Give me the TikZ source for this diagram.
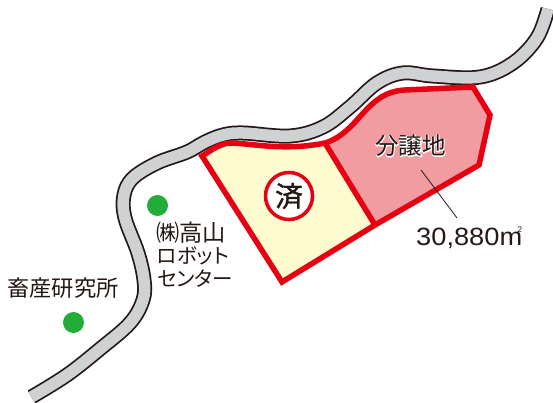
\documentclass[tikz,border=0pt]{standalone}
\usepackage{fontspec}
\setmainfont{Noto Sans CJK JP}[RawFeature=+palt]
\newfontfamily\halofont{Noto Sans CJK JP}[FakeBold=6]
\newfontfamily\markfont{Noto Sans CJK JP}[FakeBold=1]
\newfontfamily\numfont{Liberation Sans}[FakeStretch=1.09]
\definecolor{ink}{HTML}{231815}
\definecolor{roadgray}{HTML}{D0D1D2}
\definecolor{lotred}{HTML}{E60012}
\definecolor{lotpink}{HTML}{F19CA0}
\definecolor{lotyellow}{HTML}{FFFBD0}
\definecolor{dotgreen}{HTML}{22AC38}
\tikzset{
  lbl/.style={inner sep=0pt,text=ink,anchor=west,font=\fontsize{22.3}{24}\selectfont},
  kana/.style={lbl,font=\fontsize{20.5}{24}\selectfont},
  dot/.style={circle,fill=dotgreen,draw=none,minimum size=21pt,inner sep=0pt},
  lotline/.style={draw=lotred,line width=5.5pt,line join=miter},
  roadpath/.style={smooth,tension=0.6}
}
\begin{document}
\begin{tikzpicture}[x=1pt,y=-1pt]
\useasboundingbox (0,0) rectangle (553,403);
\def\roadcoords{(31.5,397) (67,375) (100,349) (130,323) (143,300) (144,280) (138,253) (125,218) (124,195) (133,178) (157,163) (187,152) (205,142) (223,135) (243,133) (290,136) (323,127) (350,107) (377,83) (403,73) (433,76) (480,77) (513,63) (537,38) (548,9)}
\draw[ink,line width=15pt,line cap=butt,line join=round] plot[roadpath] coordinates {\roadcoords};
\draw[roadgray,line width=11.5pt,line cap=butt,line join=round] plot[roadpath] coordinates {\roadcoords};
% lots
\fill[lotyellow] (202,156) .. controls (212,150) and (220,143) .. (232,143) .. controls (255,144) and (285,151) .. (325,143) -- (375,225) -- (282,282) -- cycle;
\fill[lotpink] (325,143) .. controls (360,132) and (365,92) .. (405,90) -- (473,87) -- (490,115) -- (479,165) -- (375,225) -- cycle;
\draw[lotline] (325,143) -- (375,225);
\draw[lotline] (202,156) .. controls (212,150) and (220,143) .. (232,143) .. controls (255,144) and (285,151) .. (325,143) .. controls (360,132) and (365,92) .. (405,90) -- (473,87) -- (490,115) -- (479,165) -- (375,225) -- (282,282) -- cycle;
% sold mark
\node[circle,draw=lotred,fill=white,line width=3.5pt,minimum size=47pt,inner sep=0pt,text=ink,font=\markfont\fontsize{28}{28}\selectfont] (sold) at (289,196) {済};
% labels
\node[inner sep=0pt,text=white,font=\halofont\fontsize{23.5}{24}\selectfont] (lothalo) at (410.5,146) {分譲地};
\node[inner sep=0pt,text=ink,font=\fontsize{23.5}{24}\selectfont] (lot) at (410.5,146) {分譲地};
\node[lbl] (area) at (416,238) {\numfont\fontsize{25}{25}\selectfont 30,880m\raisebox{13pt}{\fontsize{8}{8}\selectfont\hspace{-5pt}2}};
\coordinate (lead) at (421,170);
\coordinate (leadend) at (457,218);
\draw[ink,line width=0.8pt] (lead) -- (leadend);
% dots
\node[dot] (d1) at (157.5,205.5) {};
\node[dot] (d2) at (73.5,322.5) {};
\node[lbl,font=\fontsize{23.2}{24}\selectfont] (l1) at (156,233) {㈱高山};
\node[kana] (l2) at (157,256) {ロボット};
\node[kana] (l3) at (157,279) {センター};
\node[lbl] (l4) at (7,288) {畜産研究所};
\end{tikzpicture}
\end{document}
